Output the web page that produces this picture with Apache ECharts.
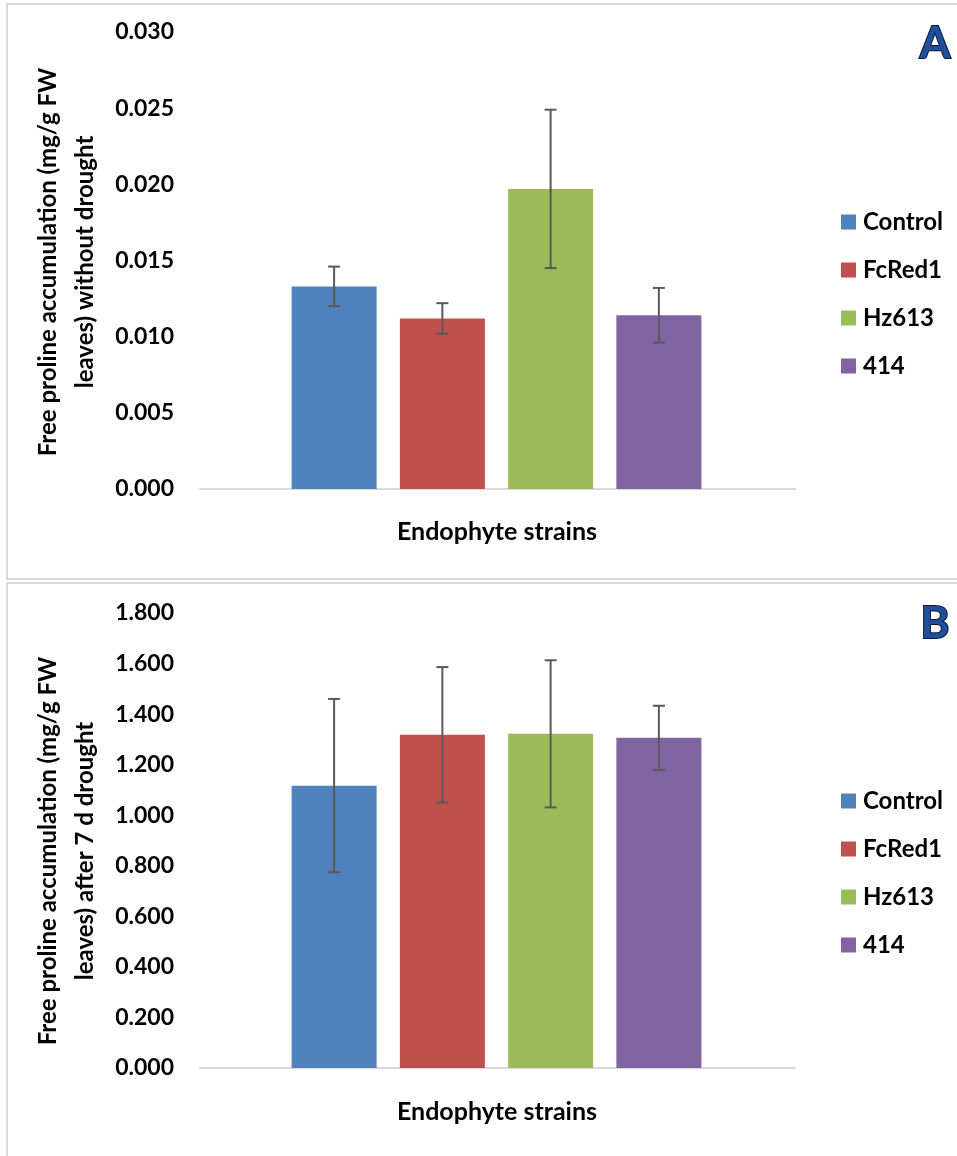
<!DOCTYPE html>
<html>
<head>
<meta charset="utf-8">
<script src="https://cdn.jsdelivr.net/npm/echarts@6/dist/echarts.min.js"></script>
<style>
  html, body { margin: 0; padding: 0; background: #ffffff; }
  #chart { width: 957px; height: 1156px; }
</style>
</head>
<body>
<div id="chart"></div>
<script>
// Endophyte strains and bar colours
const strains = ['Control', 'FcRed1', 'Hz613', '414'];
const strainColors = ['#4F81BD', '#C0504D', '#9BBB59', '#8064A2'];

// Panel A: free proline without drought (mg/g FW leaves)
const meansA = [0.0133, 0.0112, 0.0197, 0.0114];
const errorsA = [0.0013, 0.0010, 0.0052, 0.0018];
const yTicksA = [0, 0.005, 0.010, 0.015, 0.020, 0.025, 0.030];

// Panel B: free proline after 7 d drought (mg/g FW leaves)
const meansB = [1.117, 1.318, 1.322, 1.306];
const errorsB = [0.343, 0.268, 0.291, 0.127];
const yTicksB = [0, 0.2, 0.4, 0.6, 0.8, 1.0, 1.2, 1.4, 1.6, 1.8];

const FONT = 'Lato, "Open Sans", "Liberation Sans", sans-serif';
const xName = 'Endophyte strains';
const yNameA = 'Free proline accumulation (mg/g FW\nleaves) without drought';
const yNameB = 'Free proline accumulation (mg/g FW\nleaves) after 7 d drought';

const chart = echarts.init(document.getElementById('chart'), null, { renderer: 'canvas' });

const grids = [];
const xAxes = [];
const yAxes = [];
const series = [];
const legends = [];
const graphics = [];

function addPanel(p, means, errors, ticks, yName, letter) {
  const g0 = grids.length;       // full-width grid: y axis labels + baseline
  const g1 = g0 + 1;             // inner grid: bars and error bars
  const top = p.top, bottom = p.bottom;
  grids.push({ left: 200, right: 162, top: top, bottom: bottom, containLabel: false });
  grids.push({ left: 280, right: 244, top: top, bottom: bottom, containLabel: false });

  const yMin = ticks[0], yMax = ticks[ticks.length - 1], step = ticks[1] - ticks[0];

  xAxes.push({
    gridIndex: g0, type: 'category', data: [''],
    axisLine: { show: true, lineStyle: { color: '#D9D9D9', width: 2 } },
    axisTick: { show: false }, axisLabel: { show: false }, splitLine: { show: false }
  });
  xAxes.push({
    gridIndex: g1, type: 'category', data: strains, show: false
  });
  yAxes.push({
    gridIndex: g0, type: 'value', min: yMin, max: yMax, interval: step,
    axisLine: { show: false }, axisTick: { show: false }, splitLine: { show: false },
    axisLabel: {
      margin: 26, color: '#000', fontFamily: FONT, fontWeight: 'bold', fontSize: 23,
      formatter: v => v.toFixed(3)
    }
  });
  yAxes.push({
    gridIndex: g1, type: 'value', min: yMin, max: yMax, interval: step, show: false
  });

  const xi = xAxes.length - 1, yi = yAxes.length - 1;

  strains.forEach((name, i) => {
    series.push({
      type: 'bar', name: name, xAxisIndex: xi, yAxisIndex: yi,
      barWidth: 85, barGap: '-100%',
      itemStyle: { color: strainColors[i] },
      data: strains.map((_, j) => (j === i ? means[j] : '-')),
      silent: true
    });
  });

  series.push({
    type: 'custom', xAxisIndex: xi, yAxisIndex: yi, silent: true, z: 10,
    data: means.map((m, j) => [j, m - errors[j], m + errors[j]]),
    renderItem: function (params, api) {
      const lo = api.coord([api.value(0), api.value(1)]);
      const hi = api.coord([api.value(0), api.value(2)]);
      const cap = 6;
      const st = { stroke: '#595959', lineWidth: 2 };
      return {
        type: 'group',
        children: [
          { type: 'line', shape: { x1: hi[0], y1: hi[1], x2: lo[0], y2: lo[1] }, style: st },
          { type: 'line', shape: { x1: hi[0] - cap, y1: hi[1], x2: hi[0] + cap, y2: hi[1] }, style: st },
          { type: 'line', shape: { x1: lo[0] - cap, y1: lo[1], x2: lo[0] + cap, y2: lo[1] }, style: st }
        ]
      };
    }
  });

  legends.push({
    orient: 'vertical', left: 836, top: p.legendTop,
    data: strains, itemWidth: 15, itemHeight: 15, itemGap: 24,
    icon: 'rect', selectedMode: false,
    textStyle: { fontFamily: FONT, fontWeight: 'bold', fontSize: 24, color: '#000', lineHeight: 24, padding: [0, 0, 0, 2] }
  });

  // panel frame
  graphics.push({
    type: 'rect', silent: true, z: -1,
    shape: { x: 7, y: p.frameTop, width: 970, height: p.frameHeight },
    style: { fill: 'none', stroke: '#D9D9D9', lineWidth: 2 }
  });
  // y axis title
  graphics.push({
    type: 'text', silent: true, x: p.yNameX, y: p.yNameY, rotation: Math.PI / 2,
    style: {
      text: yName, fontFamily: FONT, fontWeight: 'bold', fontSize: 24, lineHeight: 37,
      fill: '#000', align: 'center', verticalAlign: 'middle'
    }
  });
  // x axis title
  graphics.push({
    type: 'text', silent: true, x: 497, y: p.xNameY,
    style: {
      text: xName, fontFamily: FONT, fontWeight: 'bold', fontSize: 25,
      fill: '#000', align: 'center', verticalAlign: 'middle'
    }
  });
  // panel letter
  graphics.push({
    type: 'text', silent: true, x: 935, y: p.letterY,
    style: {
      text: letter, fontFamily: FONT, fontWeight: 'bold', fontSize: 44,
      fill: '#1F4E9A', stroke: '#0B1A36', lineWidth: 2,
      align: 'center', verticalAlign: 'middle',
      shadowBlur: 4, shadowColor: 'rgba(40,90,170,0.8)', shadowOffsetX: 2, shadowOffsetY: 2
    }
  });
}

addPanel({ top: 32, bottom: 1156 - 489, legendTop: 205, frameTop: 4, frameHeight: 575,
           yNameX: 67, yNameY: 262, xNameY: 532, letterY: 44 },
         meansA, errorsA, yTicksA, yNameA, 'A');
addPanel({ top: 613, bottom: 1156 - 1068, legendTop: 784, frameTop: 583, frameHeight: 590,
           yNameX: 67, yNameY: 851, xNameY: 1112, letterY: 624 },
         meansB, errorsB, yTicksB, yNameB, 'B');

chart.setOption({
  animation: false,
  backgroundColor: '#ffffff',
  grid: grids,
  xAxis: xAxes,
  yAxis: yAxes,
  legend: legends,
  series: series,
  graphic: graphics
});
</script>
</body>
</html>
